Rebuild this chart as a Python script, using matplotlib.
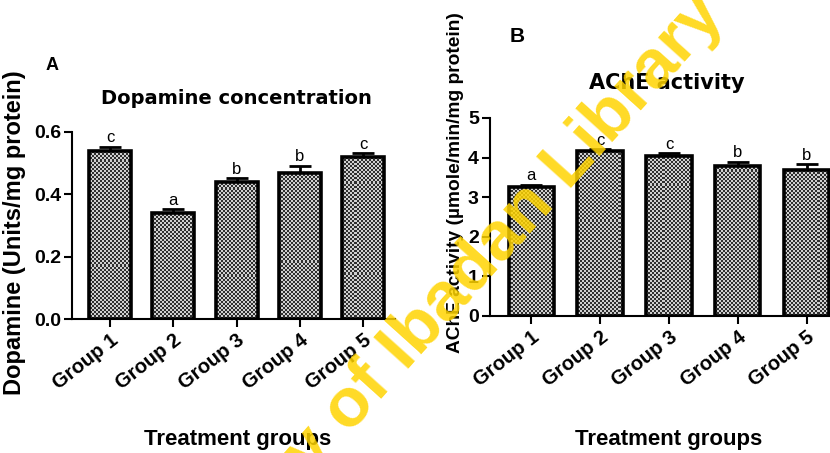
import matplotlib
matplotlib.use("Agg")
import matplotlib.pyplot as plt
from matplotlib.colors import ListedColormap
import numpy as np

plt.rcParams["font.family"] = ["Liberation Sans", "DejaVu Sans"]

W, H = 830, 453

groups = ["Group 1", "Group 2", "Group 3", "Group 4", "Group 5"]

# Panel A: dopamine (Units/mg protein)
dopa_mean = [0.54, 0.34, 0.44, 0.47, 0.52]
dopa_sem = [0.013, 0.012, 0.013, 0.022, 0.012]
dopa_letters = ["c", "a", "b", "b", "c"]

# Panel B: AChE activity (umole/min/mg protein)
ache_mean = [3.27, 4.17, 4.05, 3.80, 3.68]
ache_sem = [0.05, 0.04, 0.06, 0.10, 0.16]
ache_letters = ["a", "c", "c", "b", "b"]

CHECK = ListedColormap(["#2f2f2f", "#cfcfcf"])


def px(x, y):
    # image pixel -> figure fraction
    return x / W, 1 - y / H


def axes_rect(left, top, right, bottom):
    return [left / W, 1 - bottom / H, (right - left) / W, (bottom - top) / H]


fig = plt.figure(figsize=(W / 100, H / 100), dpi=100)
fig.patch.set_facecolor("white")


def panel(rect, means, errs, letters, ylim, yticks, yfmt, letter_off):
    ax = fig.add_axes(rect)
    x = np.arange(len(means))
    ax.set_xlim(-0.6, 4.5)
    ax.set_ylim(*ylim)
    bars = ax.bar(x, means, width=0.66, fill=False, edgecolor="black",
                  linewidth=2.6, zorder=3)
    # fine checkerboard fill, clipped to each bar
    nx = int(rect[2] * W / 2)
    ny = int(rect[3] * H / 2)
    board = np.add.outer(np.arange(ny), np.arange(nx)) % 2
    for b in bars:
        im = ax.imshow(board, cmap=CHECK, extent=(-0.6, 4.5, ylim[0], ylim[1]),
                       aspect="auto", interpolation="nearest", origin="lower",
                       zorder=2)
        im.set_clip_path(b)
    ax.errorbar(x, means, yerr=[np.zeros(len(errs)), errs], fmt="none",
                ecolor="black", elinewidth=2, capsize=8, capthick=2, zorder=1)
    for xi, m, e, l in zip(x, means, errs, letters):
        ax.text(xi, m + e + letter_off, l, ha="center", va="bottom",
                fontsize=12)
    ax.set_xlim(-0.6, 4.5)
    ax.set_ylim(*ylim)
    ax.set_yticks(yticks)
    ax.set_yticklabels([yfmt.format(v) for v in yticks],
                       fontsize=14, fontweight="bold")
    ax.set_xticks(x)
    ax.set_xticklabels(groups, rotation=38, ha="right",
                       rotation_mode="anchor", fontsize=14.5,
                       fontweight="bold")
    for s in ["top", "right"]:
        ax.spines[s].set_visible(False)
    for s in ["left", "bottom"]:
        ax.spines[s].set_linewidth(1.5)
    ax.tick_params(direction="out", length=6, width=1.5, pad=2)
    ax.set_facecolor("none")
    return ax


axA = panel(axes_rect(72, 132, 395, 319), dopa_mean, dopa_sem, dopa_letters,
            (0, 0.6), [0.0, 0.2, 0.4, 0.6], "{:.1f}", 0.004)

axB = panel(axes_rect(490, 118, 841, 316), ache_mean, ache_sem, ache_letters,
            (0, 5), [0, 1, 2, 3, 4, 5], "{:d}", 0.03)

# titles and labels
fig.text(*px(236, 99), "Dopamine concentration", ha="center", va="center",
         fontsize=14, fontweight="bold", family="DejaVu Sans")
fig.text(*px(667, 83), "AChE activity", ha="center", va="center",
         fontsize=15, fontweight="bold", family="DejaVu Sans")
fig.text(*px(52, 65), "A", ha="center", va="center", fontsize=13,
         fontweight="bold")
fig.text(*px(517, 37), "B", ha="center", va="center", fontsize=15,
         fontweight="bold")
fig.text(*px(15, 233), "Dopamine (Units/mg protein)", ha="center",
         va="center", rotation=90, fontsize=17, fontweight="bold")
fig.text(*px(455, 183), "AChE activity (\u00b5mole/min/mg protein)",
         ha="center", va="center", rotation=90, fontsize=13.8,
         fontweight="bold")
fig.text(*px(238, 440), "Treatment groups", ha="center", va="center",
         fontsize=16, fontweight="bold")
fig.text(*px(669, 440), "Treatment groups", ha="center", va="center",
         fontsize=16, fontweight="bold")

# watermark
fig.text(*px(406, 345), "University of Ibadan Library", ha="center",
         va="center", rotation=48, rotation_mode="anchor", fontsize=50,
         fontweight="bold", color="#ffd400", alpha=0.85, zorder=10)

fig.savefig("out.png", dpi=100, facecolor="white")
